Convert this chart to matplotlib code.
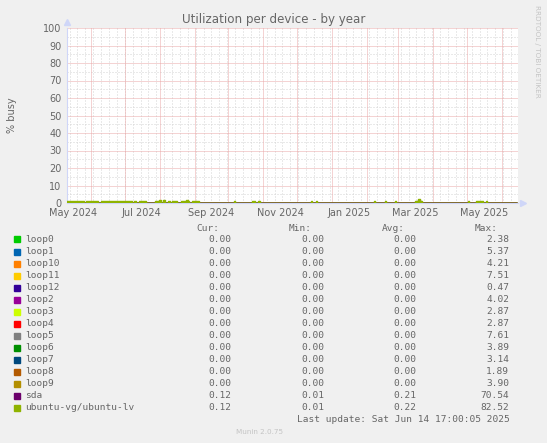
"""Munin-Chart: Utilization per device - by year (Nachbau mit matplotlib)."""

from datetime import datetime

import matplotlib

matplotlib.use("Agg")
import matplotlib.dates as mdates
import matplotlib.pyplot as plt

# ---------------------------------------------------------------- Daten
START = datetime(2024, 5, 10, 17, 0)
END = datetime(2025, 6, 14, 17, 0)

device_names = [
    "loop0", "loop1", "loop10", "loop11", "loop12", "loop2", "loop3", "loop4",
    "loop5", "loop6", "loop7", "loop8", "loop9", "sda", "ubuntu-vg/ubuntu-lv",
]
device_colors = [
    "#00cc00", "#0066b3", "#ff8000", "#ffcc00", "#330099", "#990099", "#ccff00",
    "#ff0000", "#808080", "#008f00", "#00487d", "#b35a00", "#b38f00", "#6b006b",
    "#8fb300",
]
cur_values = [0.00] * 13 + [0.12, 0.12]
min_values = [0.00] * 13 + [0.01, 0.01]
avg_values = [0.00] * 13 + [0.21, 0.22]
max_values = [2.38, 5.37, 4.21, 7.51, 0.47, 4.02, 2.87, 2.87, 7.61, 3.89, 3.14,
              1.89, 3.90, 70.54, 82.52]

# Loop-Devices liegen im Jahresmittel praktisch auf 0
loop_dates = ["2024-05-10", "2025-06-14"]
loop_values = [0.0, 0.0]

sda_dates = ["2024-05-10", "2025-03-18", "2025-03-20", "2025-06-14"]
sda_values = [0.1, 2.0, 0.1, 0.1]

# ubuntu-lv, Stufenwerte (gilt ab Datum bis zum nächsten Datum)
lv_dates = [
    "2024-05-10", "2024-05-26", "2024-05-28", "2024-06-07", "2024-06-10",
    "2024-07-07", "2024-07-09", "2024-07-11", "2024-07-14", "2024-07-20",
    "2024-07-28", "2024-07-31", "2024-08-02", "2024-08-04", "2024-08-06",
    "2024-08-08", "2024-08-10", "2024-08-12", "2024-08-16", "2024-08-20",
    "2024-08-24", "2024-08-26", "2024-08-27", "2024-08-30", "2024-09-05",
    "2024-10-06", "2024-10-07", "2024-10-22", "2024-10-25", "2024-10-27",
    "2024-10-29", "2024-12-13", "2024-12-14", "2024-12-18", "2024-12-19",
    "2025-02-07", "2025-02-08", "2025-02-17", "2025-02-18", "2025-02-26",
    "2025-02-27", "2025-03-16", "2025-03-18", "2025-03-20", "2025-03-22",
    "2025-05-02", "2025-05-03", "2025-05-09", "2025-05-15", "2025-05-18",
    "2025-05-19", "2025-06-14",
]
lv_values = [
    1.1, 0.15, 1.2, 0.15, 1.1,
    0.15, 0.9, 0.15, 1.0, 0.15,
    1.2, 1.6, 0.15, 1.5, 0.15,
    1.0, 0.15, 0.9, 0.15, 1.2,
    1.8, 1.2, 0.15, 1.1, 0.15,
    0.9, 0.15, 1.0, 0.15, 1.0,
    0.15, 1.2, 0.15, 1.2, 0.15,
    1.0, 0.15, 1.0, 0.15, 0.9,
    0.15, 1.3, 2.4, 1.3, 0.15,
    1.0, 0.15, 1.2, 0.15, 1.1,
    0.15, 0.15,
]

x_label_dates = ["2024-05-16", "2024-07-16", "2024-09-16", "2024-11-16",
                 "2025-01-16", "2025-03-16", "2025-05-16"]
x_label_texts = ["May 2024", "Jul 2024", "Sep 2024", "Nov 2024",
                 "Jan 2025", "Mar 2025", "May 2025"]

# ---------------------------------------------------------------- Stil
BACK = "#f0f0f0"
FONT = "#666666"
AXIS = "#cfd6f8"
GRID_MINOR = "#d4d4d4"
GRID_MAJOR = "#eaa8a8"
W, H = 547, 443


def _d(values):
    return [datetime.fromisoformat(v) for v in values]


def fy(px):
    """Pixel-y (von oben) → Figure-Koordinate."""
    return 1 - px / H


fig = plt.figure(figsize=(W / 100, H / 100), dpi=100, facecolor=BACK)
ax = fig.add_axes([67 / W, fy(203), (517.5 - 67) / W, (203 - 28) / H])
ax.set_facecolor("white")
ax.set_xlim(START, END)
ax.set_ylim(0, 100)

# Gitter: Wochen grau, Monate rot; y alle 5 grau, alle 10 rot
week_loc = mdates.WeekdayLocator(byweekday=mdates.MO)
month_loc = mdates.MonthLocator()
lo, hi = mdates.date2num(START), mdates.date2num(END)
for t in week_loc.tick_values(START, END):
    if lo < t < hi:
        ax.axvline(t, color=GRID_MINOR, lw=0.72, ls=(0, (1, 2)), zorder=0)
for t in month_loc.tick_values(START, END):
    if lo < t < hi:
        ax.axvline(t, color=GRID_MAJOR, lw=0.72, ls=(0, (1, 1)), zorder=1)
for v in range(5, 100, 10):
    ax.axhline(v, color=GRID_MINOR, lw=0.72, ls=(0, (1, 2)), zorder=0)
for v in range(10, 101, 10):
    ax.axhline(v, color=GRID_MAJOR, lw=0.72, ls=(0, (1, 1)), zorder=1)

# Datenlinien (munin zeichnet in Legenden-Reihenfolge)
for name, color in zip(device_names, device_colors):
    if name == "sda":
        xs, ys = _d(sda_dates), sda_values
    elif name == "ubuntu-vg/ubuntu-lv":
        xs, ys = _d(lv_dates), lv_values
        ax.fill_between(xs, 0, ys, step="post", color=color, lw=0, zorder=3)
    else:
        xs, ys = _d(loop_dates), loop_values
    ax.plot(xs, ys, color=color, lw=1.0, drawstyle="steps-post", zorder=3,
            solid_capstyle="butt")

# Achsen
for side in ("top", "right"):
    ax.spines[side].set_visible(False)
for side in ("left", "bottom"):
    ax.spines[side].set_color(AXIS)
    ax.spines[side].set_linewidth(0.8)
ax.spines["bottom"].set_zorder(2)
ax.plot([0], [1.035], marker="^", ms=5, color=AXIS, transform=ax.transAxes, clip_on=False)
ax.plot([1.012], [0], marker=">", ms=5, color=AXIS, transform=ax.transAxes, clip_on=False)

ax.set_yticks(range(0, 101, 10))
ax.set_xticks(_d(x_label_dates))
ax.set_xticklabels(x_label_texts)
ax.tick_params(axis="both", length=0, labelsize=7, labelcolor=FONT)
ax.tick_params(axis="y", pad=4)
ax.tick_params(axis="x", pad=3.5)

# Titel & Beschriftungen
fig.text(0.5, fy(19), "Utilization per device - by year", ha="center", va="center",
         fontsize=8.6, color=FONT)
fig.text(12 / W, fy(115), "% busy", rotation=90, ha="center", va="center",
         fontsize=7, color=FONT)
fig.text(537 / W, fy(5), "RRDTOOL / TOBI OETIKER", rotation=270, ha="center", va="top",
         fontsize=5.2, color="#c4c4c4")

# Legende im munin-Stil
mono = "DejaVu Sans Mono"
col_right = [231.7, 324, 416.7, 509.3]
headers = ["Cur:", "Min:", "Avg:", "Max:"]
for x, text in zip(col_right, headers):
    fig.text((x - 12) / W, fy(228.5), text, ha="right", va="center",
             fontsize=6.8, family=mono, color=FONT)

for i, (name, color) in enumerate(zip(device_names, device_colors)):
    y = 239.5 + i * 12.03
    fig.patches.append(plt.Rectangle((13.5 / W, fy(y + 3)), 6 / W, 6 / H,
                                     transform=fig.transFigure, color=color))
    fig.text(25 / W, fy(y), name, ha="left", va="center", fontsize=6.8,
             family=mono, color=FONT)
    stats = (cur_values[i], min_values[i], avg_values[i], max_values[i])
    for x, val in zip(col_right, stats):
        fig.text(x / W, fy(y), f"{val:.2f}", ha="right", va="center",
                 fontsize=6.8, family=mono, color=FONT)

fig.text(509.3 / W, fy(419.5), "Last update: Sat Jun 14 17:00:05 2025",
         ha="right", va="center", fontsize=6.8, family=mono, color=FONT)
fig.text(260 / W, fy(432.5), "Munin 2.0.75", ha="center", va="center",
         fontsize=5.2, color="#c4c4c4")

fig.savefig("out.png", dpi=100, facecolor=BACK)
plt.close(fig)
